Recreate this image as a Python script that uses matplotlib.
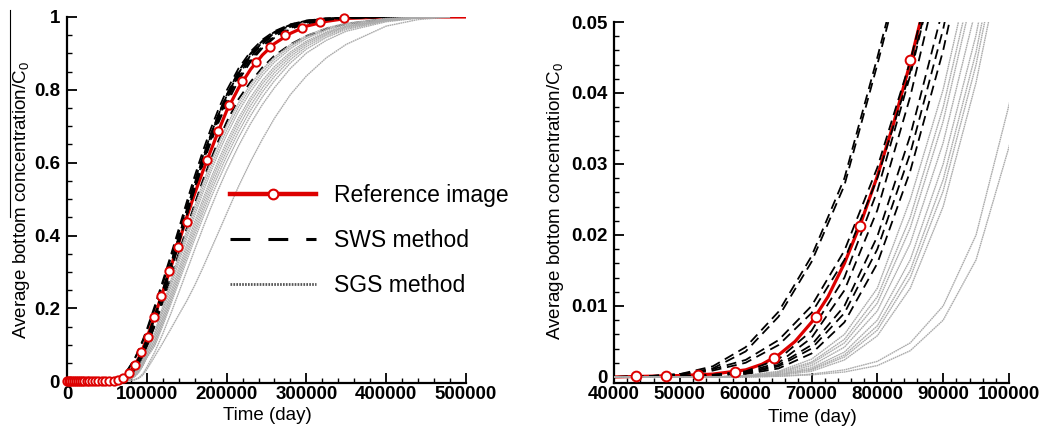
import matplotlib
matplotlib.use("Agg")
import matplotlib.pyplot as plt
from matplotlib.lines import Line2D
from matplotlib.ticker import MultipleLocator, FuncFormatter

plt.rcParams['font.family'] = ['Liberation Sans', 'DejaVu Sans']
plt.rcParams['mathtext.fontset'] = 'custom'
plt.rcParams['mathtext.rm'] = 'Liberation Sans'
plt.rcParams['mathtext.it'] = 'Liberation Sans:italic'

# reference curve (red line) and its circle markers
ref_t = [0, 40000, 45000, 50000, 55000, 60000, 62500, 65000, 67500, 70000, 72500,
         75000, 77500, 80000, 82500, 85000, 87500, 90000, 95000, 100000, 110000,
         120000, 130000, 140000, 150000, 160000, 170000, 180000, 190000, 200000,
         215000, 230000, 245000, 260000, 280000, 300000, 325000, 350000, 400000,
         450000, 500000]
ref_c = [0, 0, 0.0001, 0.0002, 0.0004, 0.0010, 0.0018, 0.0031, 0.0050, 0.0077, 0.0113,
         0.0160, 0.0217, 0.0283, 0.0358, 0.0443, 0.0537, 0.064, 0.089, 0.118, 0.180,
         0.245, 0.312, 0.380, 0.450, 0.515, 0.575, 0.632, 0.688, 0.742,
         0.805, 0.856, 0.896, 0.927, 0.955, 0.975, 0.988, 0.996, 1.0,
         1.0, 1.0]
mark_t = [0, 2000, 4100, 6300, 8600, 11000, 13500, 16100, 18800, 21700, 24700, 27900,
          31300, 34900, 38700, 43340, 47900, 52760, 58380, 64300, 70640, 77370, 84960,
          92700, 101900, 109400, 117400, 127800, 138700, 150000, 175100, 189600,
          203400, 219700, 236800, 254400, 273600, 294100, 316700, 347000]
mark_c = [0, 0, 0, 0, 0, 0, 0, 0, 0, 0, 0, 0,
          0, 0, 0, 0.0001, 0.0001, 0.0003, 0.0007, 0.0027, 0.0084, 0.0213, 0.0446,
          0.079, 0.122, 0.177, 0.234, 0.302, 0.369, 0.437, 0.607, 0.687,
          0.757, 0.823, 0.876, 0.918, 0.951, 0.971, 0.985, 0.998]

# common time axis of the realisations
run_t = [0, 40000, 45000, 50000, 55000, 60000, 65000, 70000, 75000, 80000, 85000,
         90000, 95000, 100000, 110000, 120000, 130000, 140000, 150000, 160000,
         170000, 180000, 190000, 200000, 215000, 230000, 245000, 260000, 280000,
         300000, 325000, 350000, 400000, 440000, 480000]

sws_runs = [
    [0, 0, 0.0001, 0.0004, 0.0015, 0.0042, 0.0092, 0.017, 0.028, 0.045, 0.063, 0.087, 0.113, 0.142,
     0.207, 0.275, 0.345, 0.418, 0.492, 0.563, 0.630, 0.692, 0.748, 0.798, 0.859, 0.905, 0.938,
     0.961, 0.980, 0.990, 0.996, 0.999, 1, 1, 1],
    [0, 0, 0.0001, 0.0003, 0.0012, 0.0036, 0.0085, 0.0162, 0.027, 0.044, 0.062, 0.084, 0.110, 0.138,
     0.200, 0.267, 0.337, 0.408, 0.480, 0.550, 0.616, 0.677, 0.733, 0.783, 0.846, 0.895, 0.931,
     0.956, 0.977, 0.989, 0.996, 0.999, 1, 1, 1],
    [0, 0, 0.0001, 0.0004, 0.0011, 0.0024, 0.0052, 0.0100, 0.0178, 0.0295, 0.0445, 0.063, 0.086, 0.113,
     0.176, 0.245, 0.318, 0.393, 0.468, 0.541, 0.610, 0.673, 0.730, 0.781, 0.845, 0.894, 0.930,
     0.955, 0.976, 0.988, 0.995, 0.998, 1, 1, 1],
    [0, 0, 0.0001, 0.0003, 0.0009, 0.0020, 0.0045, 0.0090, 0.0165, 0.0280, 0.0430, 0.062, 0.085, 0.112,
     0.175, 0.243, 0.314, 0.386, 0.458, 0.528, 0.594, 0.655, 0.711, 0.761, 0.826, 0.877, 0.915,
     0.943, 0.967, 0.982, 0.992, 0.997, 1, 1, 1],
    [0, 0, 0, 0.0001, 0.0003, 0.0008, 0.0025, 0.0065, 0.0140, 0.0262, 0.0425, 0.062, 0.086, 0.114,
     0.180, 0.250, 0.322, 0.395, 0.467, 0.537, 0.603, 0.664, 0.720, 0.770, 0.834, 0.883, 0.920,
     0.947, 0.970, 0.984, 0.993, 0.997, 1, 1, 1],
    [0, 0, 0, 0.0001, 0.0003, 0.0007, 0.0020, 0.0055, 0.0122, 0.0235, 0.0395, 0.059, 0.083, 0.110,
     0.175, 0.246, 0.320, 0.395, 0.470, 0.543, 0.612, 0.676, 0.734, 0.786, 0.850, 0.898, 0.933,
     0.957, 0.977, 0.988, 0.995, 0.998, 1, 1, 1],
    [0, 0, 0, 0.0001, 0.0002, 0.0006, 0.0017, 0.0045, 0.0100, 0.0198, 0.0340, 0.052, 0.074, 0.100,
     0.163, 0.232, 0.305, 0.380, 0.455, 0.528, 0.598, 0.662, 0.721, 0.774, 0.840, 0.890, 0.926,
     0.952, 0.973, 0.986, 0.994, 0.998, 1, 1, 1],
    [0, 0, 0, 0.0001, 0.0002, 0.0005, 0.0015, 0.0040, 0.0090, 0.0180, 0.0315, 0.049, 0.071, 0.097,
     0.152, 0.216, 0.283, 0.352, 0.420, 0.487, 0.550, 0.608, 0.662, 0.712, 0.775, 0.822, 0.862,
     0.894, 0.925, 0.948, 0.968, 0.981, 0.995, 0.999, 1],
    [0, 0, 0, 0, 0.0001, 0.0004, 0.0012, 0.0033, 0.0077, 0.0160, 0.0290, 0.046, 0.067, 0.092,
     0.155, 0.225, 0.300, 0.377, 0.455, 0.532, 0.605, 0.672, 0.732, 0.785, 0.851, 0.900, 0.935,
     0.959, 0.979, 0.990, 0.996, 0.999, 1, 1, 1],
]

sgs_runs = [
    [0, 0, 0, 0, 0, 0.0002, 0.0008, 0.0025, 0.0060, 0.0125, 0.0250, 0.0405, 0.061, 0.085,
     0.135, 0.205, 0.276, 0.346, 0.414, 0.480, 0.542, 0.600, 0.653, 0.701, 0.764, 0.815, 0.857,
     0.890, 0.924, 0.949, 0.970, 0.983, 0.996, 1, 1],
    [0, 0, 0, 0, 0, 0.0002, 0.0007, 0.0021, 0.0053, 0.0113, 0.0225, 0.0380, 0.058, 0.082,
     0.128, 0.196, 0.266, 0.335, 0.402, 0.467, 0.529, 0.587, 0.640, 0.689, 0.753, 0.806, 0.849,
     0.884, 0.919, 0.945, 0.967, 0.981, 0.995, 0.999, 1],
    [0, 0, 0, 0, 0, 0.0001, 0.0006, 0.0019, 0.0048, 0.0104, 0.0210, 0.0360, 0.056, 0.080,
     0.123, 0.189, 0.257, 0.325, 0.391, 0.455, 0.516, 0.574, 0.627, 0.676, 0.741, 0.795, 0.840,
     0.876, 0.913, 0.941, 0.964, 0.979, 0.994, 0.999, 1],
    [0, 0, 0, 0, 0, 0.0001, 0.0005, 0.0016, 0.0042, 0.0093, 0.0188, 0.0330, 0.052, 0.076,
     0.115, 0.178, 0.244, 0.310, 0.375, 0.438, 0.498, 0.555, 0.608, 0.657, 0.723, 0.779, 0.826,
     0.864, 0.904, 0.934, 0.959, 0.976, 0.993, 0.999, 1],
    [0, 0, 0, 0, 0, 0.0001, 0.0004, 0.0013, 0.0035, 0.0080, 0.0165, 0.0300, 0.0482, 0.072,
     0.110, 0.171, 0.235, 0.300, 0.364, 0.426, 0.486, 0.543, 0.596, 0.645, 0.712, 0.769, 0.817,
     0.856, 0.898, 0.930, 0.956, 0.974, 0.992, 0.998, 1],
    [0, 0, 0, 0, 0, 0.0001, 0.0003, 0.0011, 0.0031, 0.0072, 0.0150, 0.0278, 0.0458, 0.069,
     0.105, 0.164, 0.226, 0.290, 0.353, 0.414, 0.473, 0.530, 0.583, 0.632, 0.699, 0.757, 0.806,
     0.847, 0.891, 0.925, 0.953, 0.972, 0.991, 0.998, 1],
    [0, 0, 0, 0, 0, 0.0001, 0.0003, 0.0010, 0.0028, 0.0066, 0.0140, 0.0262, 0.0440, 0.067,
     0.101, 0.158, 0.219, 0.281, 0.343, 0.403, 0.461, 0.517, 0.569, 0.618, 0.685, 0.744, 0.795,
     0.837, 0.883, 0.919, 0.949, 0.969, 0.990, 0.998, 1],
    [0, 0, 0, 0, 0, 0, 0.0002, 0.0008, 0.0024, 0.0058, 0.0125, 0.0240, 0.0415, 0.064,
     0.097, 0.152, 0.211, 0.271, 0.331, 0.390, 0.447, 0.502, 0.553, 0.602, 0.669, 0.729, 0.781,
     0.825, 0.874, 0.912, 0.944, 0.966, 0.989, 0.997, 1],
    [0, 0, 0, 0, 0, 0, 0.0001, 0.0004, 0.0010, 0.0022, 0.0048, 0.0100, 0.0200, 0.0383,
     0.080, 0.130, 0.185, 0.243, 0.302, 0.361, 0.419, 0.475, 0.528, 0.578, 0.646, 0.707, 0.760,
     0.806, 0.859, 0.901, 0.936, 0.961, 0.987, 0.997, 1],
    [0, 0, 0, 0, 0, 0, 0.0001, 0.0003, 0.0007, 0.0016, 0.0037, 0.0080, 0.0165, 0.0324,
     0.068, 0.105, 0.143, 0.182, 0.220, 0.263, 0.310, 0.360, 0.410, 0.460, 0.535, 0.603, 0.665,
     0.722, 0.787, 0.838, 0.888, 0.925, 0.975, 0.993, 1],
]

ylabel = 'Average bottom concentration/C$_0$'
W, H = 1046, 430

fig = plt.figure(figsize=(W / 100, H / 100), dpi=100)
ax1 = fig.add_axes([67 / W, 47 / H, 399 / W, 366 / H])
ax2 = fig.add_axes([614 / W, 47 / H, 395 / W, 361 / H])


def draw_runs(ax, ms, clip):
    ax.plot(ref_t, ref_c, color='#dd0000', lw=2.3, zorder=2)
    for c in sws_runs:
        ax.plot(run_t, c, color='black', lw=1.3, dashes=(5.5, 3.2), zorder=3)
    for c in sgs_runs:
        ax.plot(run_t, c, color='#ababab', lw=1.0, ls=(0, (1.2, 0.4)), zorder=3)
    ax.plot(mark_t, mark_c, ls='none', marker='o', ms=ms, mfc='white', mec='#dd0000',
            mew=1.4, zorder=5, clip_on=clip)


def style(ax, ypad):
    for s in ('top', 'right'):
        ax.spines[s].set_visible(False)
    for s in ('left', 'bottom'):
        ax.spines[s].set_linewidth(1.6)
    ax.tick_params(which='both', direction='in', top=False, right=False)
    ax.tick_params(which='major', length=7, width=1.3, labelsize=13.5)
    ax.tick_params(axis='x', which='major', pad=2)
    ax.tick_params(axis='y', which='major', pad=ypad)
    ax.tick_params(which='minor', length=3.5, width=1.0)
    ax.yaxis.set_major_formatter(FuncFormatter(lambda v, p: '%g' % round(v, 6)))
    ax.xaxis.set_major_formatter(FuncFormatter(lambda v, p: '%d' % v))
    plt.setp(ax.get_xticklabels() + ax.get_yticklabels(), fontweight='bold')


draw_runs(ax1, 6, False)
ax1.set_xlim(0, 500000)
ax1.set_ylim(-0.005, 1.0)
ax1.xaxis.set_major_locator(MultipleLocator(100000))
ax1.xaxis.set_minor_locator(MultipleLocator(20000))
ax1.yaxis.set_major_locator(MultipleLocator(0.2))
ax1.yaxis.set_minor_locator(MultipleLocator(0.05))
style(ax1, 5)

draw_runs(ax2, 7, True)
ax2.set_xlim(40000, 100000)
ax2.set_ylim(-0.00085, 0.05)
ax2.xaxis.set_major_locator(MultipleLocator(10000))
ax2.xaxis.set_minor_locator(MultipleLocator(2000))
ax2.yaxis.set_major_locator(MultipleLocator(0.01))
ax2.yaxis.set_minor_locator(MultipleLocator(0.002))
style(ax2, 4.5)

fig.text(22 / W, 1 - 200 / H, ylabel, rotation=90, ha='center', va='center', fontsize=13.5)
fig.text(556 / W, 1 - 201 / H, ylabel, rotation=90, ha='center', va='center', fontsize=13.5)
fig.text(267 / W, 1 - 416 / H, 'Time (day)', ha='center', va='center', fontsize=13.5)
fig.text(812 / W, 1 - 417 / H, 'Time (day)', ha='center', va='center', fontsize=13.5)
# bar over the left axis title
fig.add_artist(Line2D([10 / W, 10 / W], [1 - 10 / H, 1 - 217 / H], color='black', lw=0.8))

handles = [
    Line2D([], [], color='#dd0000', lw=3.2, marker='o', ms=7, mfc='white', mec='#dd0000', mew=1.5),
    Line2D([], [], color='black', lw=2.2, dashes=(6.5, 5.9)),
    Line2D([], [], color='#555555', lw=2.0, ls=(0, (0.6, 0.45))),
]
ax1.legend(handles, ['Reference image', 'SWS method', 'SGS method'],
           loc='upper left', bbox_to_anchor=(230 / W, 1 - 184 / H), bbox_transform=fig.transFigure,
           frameon=False, fontsize=16.5, handlelength=3.75, handletextpad=0.8,
           labelspacing=0.95, borderpad=0, borderaxespad=0)

fig.savefig('out.png', dpi=100)
